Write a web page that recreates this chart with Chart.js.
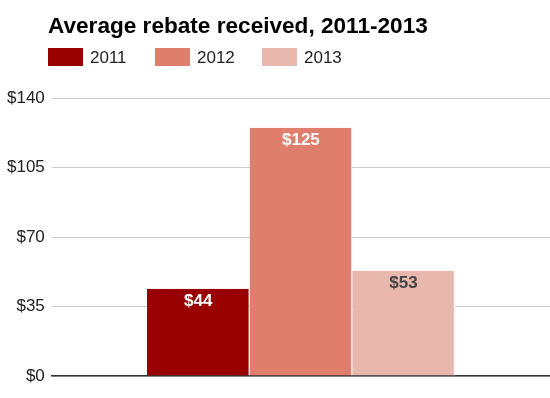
<!DOCTYPE html>
<html>
<head>
<meta charset="utf-8">
<script src="https://cdn.jsdelivr.net/npm/chart.js@4.4.0/dist/chart.umd.min.js"></script>
<style>
  html, body { margin: 0; padding: 0; background: #fff; }
  #wrap { width: 550px; height: 398px; }
</style>
</head>
<body>
<div id="wrap"><canvas id="rebate"></canvas></div>
<script>
const title = 'Average rebate received, 2011-2013';
const categories = [''];
const years = ['2011', '2012', '2013'];
const rebates = [44, 125, 53];
const colors = ['#990000', '#de7e6b', '#e8b8af'];
const labelColors = ['#ffffff', '#ffffff', '#444444'];
const yTicks = [0, 35, 70, 105, 140];

const FONT = 'Arial, "Liberation Sans", sans-serif';

// title, legend and value labels drawn by hand
const headerPlugin = {
    id: 'header',
    afterDraw(chart) {
        const ctx = chart.ctx;
        ctx.save();
        ctx.fillStyle = '#000';
        ctx.font = 'bold 22.6px ' + FONT;
        ctx.textBaseline = 'alphabetic';
        ctx.textAlign = 'left';
        ctx.fillText(title, 48, 33);

        const starts = [48, 155, 262];
        chart.data.datasets.forEach((ds, i) => {
            ctx.fillStyle = ds.backgroundColor;
            ctx.fillRect(starts[i], 48, 35, 18);
            ctx.fillStyle = '#222';
            ctx.font = '17px ' + FONT;
            ctx.textBaseline = 'middle';
            ctx.fillText(ds.label, starts[i] + 42, 58);
        });

        ctx.font = 'bold 17px ' + FONT;
        ctx.textAlign = 'center';
        ctx.textBaseline = 'alphabetic';
        chart.data.datasets.forEach((ds, i) => {
            const bar = chart.getDatasetMeta(i).data[0];
            ctx.fillStyle = labelColors[i];
            ctx.fillText('$' + ds.data[0], bar.x, bar.y + 17);
        });
        ctx.restore();
    }
};

new Chart(document.getElementById('rebate'), {
    type: 'bar',
    data: {
        labels: categories,
        datasets: years.map((y, i) => ({
            label: y,
            data: [rebates[i]],
            backgroundColor: colors[i],
            borderColor: '#ffffff',
            borderWidth: { top: 0, right: 1, bottom: 0, left: 0 },
            borderSkipped: false,
            barPercentage: 1,
            categoryPercentage: 0.618
        }))
    },
    options: {
        responsive: true,
        maintainAspectRatio: false,
        animation: false,
        layout: { padding: { top: 98, bottom: 22, left: 0, right: 0 } },
        plugins: {
            legend: { display: false },
            tooltip: { enabled: false }
        },
        scales: {
            x: {
                ticks: { display: false },
                grid: { display: false, drawTicks: false },
                border: { color: '#333', width: 1.5 }
            },
            y: {
                min: 0,
                max: 140,
                afterBuildTicks(axis) {
                    axis.ticks = yTicks.map(v => ({ value: v }));
                },
                ticks: {
                    padding: 7,
                    color: '#222',
                    font: { family: FONT, size: 17 },
                    callback: v => '$' + v
                },
                grid: { color: '#cccccc', drawTicks: false },
                border: { display: false }
            }
        }
    },
    plugins: [headerPlugin]
});
</script>
</body>
</html>
